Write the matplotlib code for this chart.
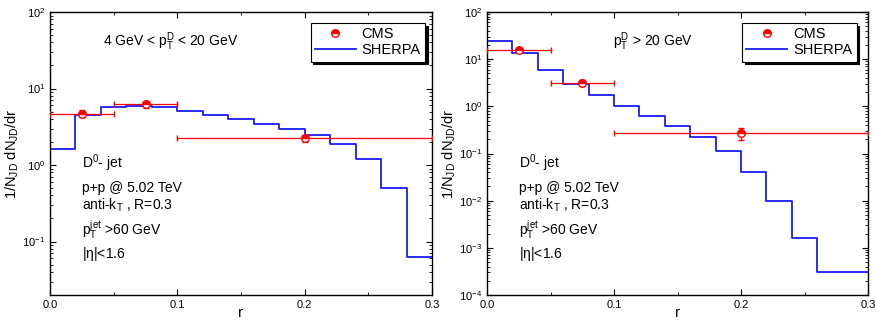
import numpy as np
import matplotlib.pyplot as plt
from matplotlib.lines import Line2D
from matplotlib.ticker import LogLocator, NullFormatter, MultipleLocator

plt.rcParams['font.family'] = ['Liberation Sans', 'DejaVu Sans']
plt.rcParams['mathtext.default'] = 'regular'

# SHERPA histogram, bin edges in r
edges = [0.0, 0.02, 0.04, 0.06, 0.08, 0.10, 0.12, 0.14, 0.16, 0.18,
         0.20, 0.22, 0.24, 0.26, 0.28, 0.30]
sherpa_low = [1.62, 4.5, 5.8, 5.95, 5.7, 5.1, 4.5, 4.0, 3.45, 3.0,
              2.5, 1.88, 1.2, 0.50, 0.063]
sherpa_high = [24.4, 13.4, 5.9, 3.0, 1.73, 1.03, 0.63, 0.38, 0.225, 0.112,
               0.041, 0.0098, 0.0016, 0.0003, 0.0003]

# CMS data
cms_r = [0.025, 0.075, 0.2]
cms_xerr_lo = [0.025, 0.025, 0.1]
cms_xerr_hi = [0.025, 0.025, 0.1]
cms_low = [4.7, 6.2, 2.25]
cms_low_err = [0.5, 0.7, 0.25]
cms_high = [15.5, 3.2, 0.27]
cms_high_err = [1.2, 0.4, 0.08]

panels = [
    dict(sherpa=sherpa_low, cms=cms_low, err=cms_low_err, ylim=(0.02, 100),
         title=r'4 GeV < p$_T^D$ < 20 GeV', tx=0.139, lx=0.982,
         pos=[50/876, 26/321, 382/876, 283/321]),
    dict(sherpa=sherpa_high, cms=cms_high, err=cms_high_err, ylim=(1e-4, 100),
         title=r'p$_T^D$ > 20 GeV', tx=0.33, lx=0.97,
         pos=[487/876, 26/321, 381/876, 283/321]),
]

info = [r'D$^0$- jet', r'p+p @ 5.02 TeV', r'anti-k$_T$ , R=0.3',
        r'p$_T^{jet}$ >60 GeV', r'|$\eta$|<1.6']
info_y = [0.466, 0.378, 0.316, 0.228, 0.145]

fig = plt.figure(figsize=(8.76, 3.21), dpi=100)

for p in panels:
    ax = fig.add_axes(p['pos'])
    vals = list(p['sherpa']) + [p['sherpa'][-1]]
    ax.step(edges, vals, where='post', color='#1a1aff', lw=1.3)
    ax.errorbar(cms_r, p['cms'], xerr=[cms_xerr_lo, cms_xerr_hi], yerr=p['err'],
                fmt='o', color='red', ecolor='red', elinewidth=0.9, capsize=2.5,
                ms=5.5, mfc='red', mec='red', fillstyle='top',
                markerfacecoloralt='white', zorder=3)
    ax.set_yscale('log')
    ax.set_xlim(0, 0.3)
    ax.set_ylim(*p['ylim'])
    ax.xaxis.set_minor_locator(MultipleLocator(0.05))
    ax.set_xticks([0, 0.1, 0.2, 0.3])
    ax.set_xticklabels(['0.0', '0.1', '0.2', '0.3'])
    ax.yaxis.set_major_locator(LogLocator(base=10, numticks=20))
    ax.yaxis.set_minor_locator(LogLocator(base=10, subs=np.arange(2, 10), numticks=20))
    ax.yaxis.set_minor_formatter(NullFormatter())
    ax.tick_params(which='both', direction='in', top=True, right=True, labelsize=8)
    ax.tick_params(which='major', length=4)
    ax.tick_params(which='minor', length=2)
    for s in ax.spines.values():
        s.set_linewidth(1.0)
    ax.set_xlabel('r', fontsize=11, labelpad=-2.5)
    ax.set_ylabel(r'1/N$_{JD}$ dN$_{JD}$/dr', fontsize=10.5, labelpad=1)
    ax.text(p['tx'], 0.894, p['title'], transform=ax.transAxes, fontsize=10,
            va='center')
    for t, y in zip(info, info_y):
        ax.text(0.085, y, t, transform=ax.transAxes, fontsize=10, va='center')
    handles = [
        Line2D([], [], ls='none', marker='o', ms=5.5, color='red', mec='red',
               fillstyle='top', markerfacecoloralt='white'),
        Line2D([], [], color='#1a1aff', lw=1.3),
    ]
    leg = ax.legend(handles, ['CMS', 'SHERPA'], loc='upper right',
                    bbox_to_anchor=(p['lx'], 0.962), borderaxespad=0,
                    fontsize=10.5, fancybox=False,
                    shadow={'color': 'black', 'alpha': 1}, edgecolor='black',
                    framealpha=1, handlelength=2.8, handletextpad=0.4,
                    borderpad=0.3, labelspacing=0.15)
    leg.get_frame().set_linewidth(0.8)

fig.savefig('out.png', dpi=100)
